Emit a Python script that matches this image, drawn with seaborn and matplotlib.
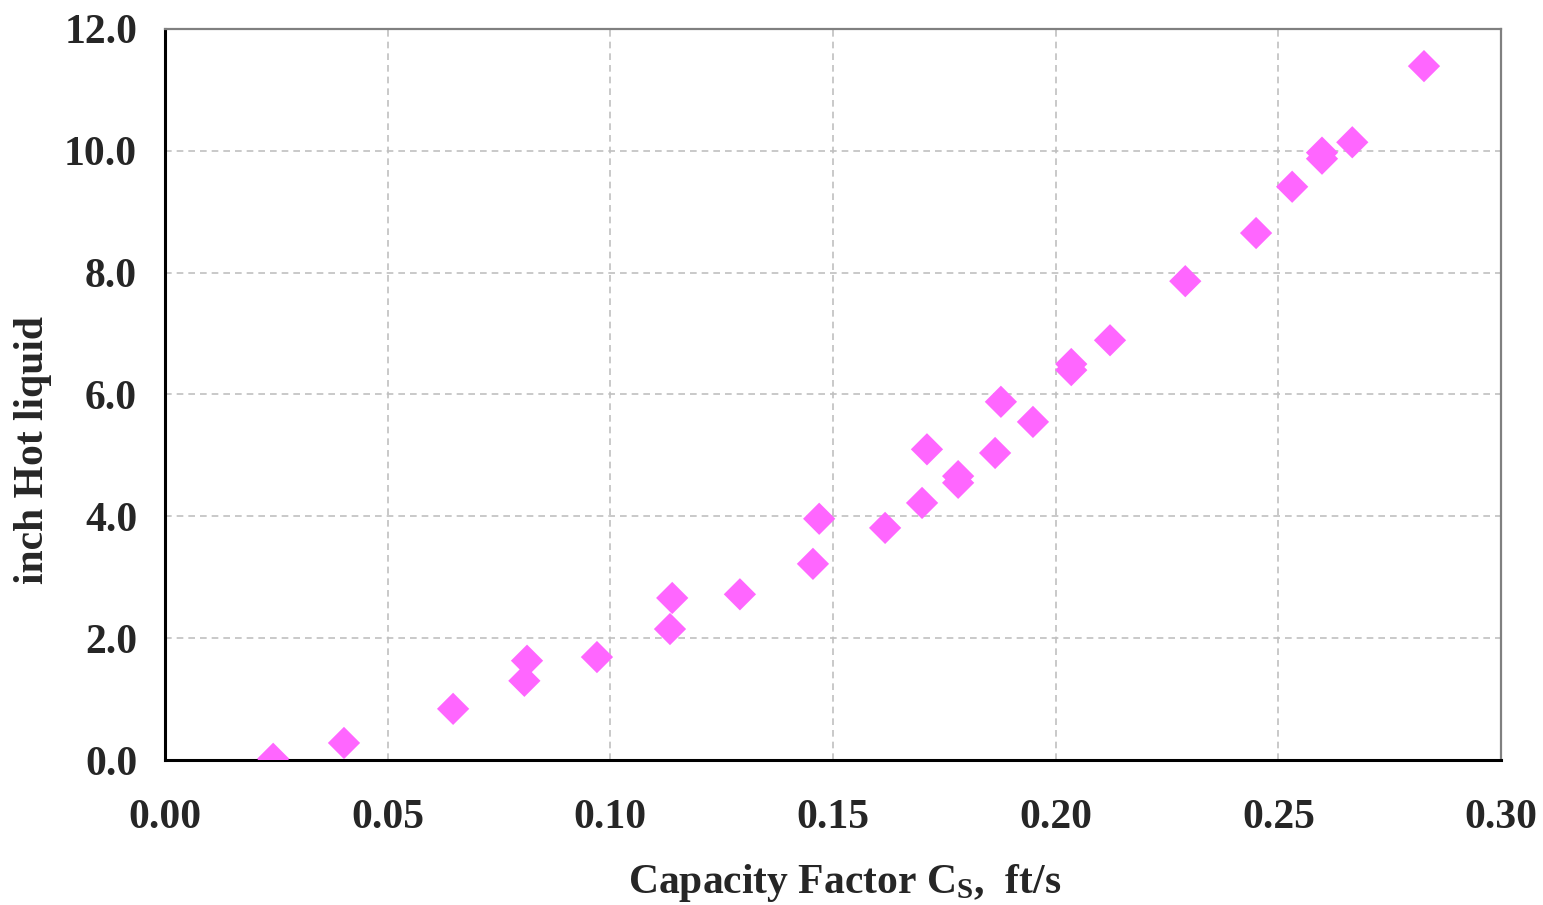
import matplotlib
matplotlib.use("Agg")
import matplotlib.pyplot as plt
from matplotlib.ticker import MultipleLocator, FormatStrFormatter
import seaborn as sns
import pandas as pd

# Measured capacity factor (ft/s) and pressure drop (inch hot liquid)
capacity_factor = [0.0243, 0.0402, 0.0647, 0.0807, 0.0813, 0.0970, 0.1134, 0.1139,
                   0.1291, 0.1455, 0.1469, 0.1617, 0.1700, 0.1711, 0.1781, 0.1781,
                   0.1864, 0.1877, 0.1949, 0.2035, 0.2035, 0.2122, 0.2291, 0.2450,
                   0.2531, 0.2598, 0.2598, 0.2666, 0.2827]
hot_liquid = [0.02, 0.28, 0.84, 1.30, 1.63, 1.69, 2.15, 2.66,
              2.72, 3.22, 3.96, 3.81, 4.22, 5.10, 4.55, 4.66,
              5.04, 5.88, 5.55, 6.40, 6.50, 6.89, 7.86, 8.65,
              9.41, 9.87, 9.97, 10.14, 11.39]

df = pd.DataFrame({"cs": capacity_factor, "dp": hot_liquid})

sns.set_theme(style="white")
plt.rcParams["font.family"] = ["Liberation Serif", "DejaVu Serif"]
plt.rcParams["font.weight"] = "bold"
plt.rcParams["mathtext.fontset"] = "custom"
plt.rcParams["mathtext.rm"] = "Liberation Serif:bold"
plt.rcParams["mathtext.it"] = "Liberation Serif:bold"
plt.rcParams["mathtext.bf"] = "Liberation Serif:bold"

fig = plt.figure(figsize=(15.43, 9.05), dpi=100)
ax = fig.add_axes([0.1069, 0.1602, 0.8659, 0.8078])

sns.scatterplot(data=df, x="cs", y="dp", ax=ax, marker="D", s=270,
                color="#ff66ff", edgecolor="none", linewidth=0, zorder=3)

ax.set_xlim(0, 0.30)
ax.set_ylim(0, 12.0)
ax.xaxis.set_major_locator(MultipleLocator(0.05))
ax.xaxis.set_minor_locator(MultipleLocator(0.025))
ax.yaxis.set_major_locator(MultipleLocator(2.0))
ax.yaxis.set_minor_locator(MultipleLocator(1.0))
ax.xaxis.set_major_formatter(FormatStrFormatter("%.2f"))
ax.yaxis.set_major_formatter(FormatStrFormatter("%.1f"))

ax.grid(True, which="major", color="#c0c0c0", linestyle=(0, (4, 3)), linewidth=1.2)
ax.set_axisbelow(True)

for side in ("left", "bottom"):
    ax.spines[side].set_color("black")
    ax.spines[side].set_linewidth(2.2)
for side in ("top", "right"):
    ax.spines[side].set_color("#808080")
    ax.spines[side].set_linewidth(1.6)

ax.tick_params(axis="both", which="both", direction="in", color="black",
               width=1.6, top=False, right=False)
ax.tick_params(axis="both", which="major", length=8, labelsize=30)
ax.tick_params(axis="both", which="minor", length=8)
ax.tick_params(axis="x", which="major", pad=28)
ax.tick_params(axis="y", which="major", pad=20)
for lab in ax.get_xticklabels() + ax.get_yticklabels():
    lab.set_fontweight("bold")

ax.set_xlabel(r"Capacity Factor C$_{\mathregular{S}}$,  ft/s", fontsize=30,
              fontweight="bold")
ax.set_ylabel("inch Hot liquid", fontsize=30, fontweight="bold")
ax.xaxis.label.set_va("center")
ax.yaxis.label.set_va("center")
ax.xaxis.set_label_coords(0.509, -0.168)
ax.yaxis.set_label_coords(-0.099, 0.424)

fig.savefig("out.png", dpi=100)
